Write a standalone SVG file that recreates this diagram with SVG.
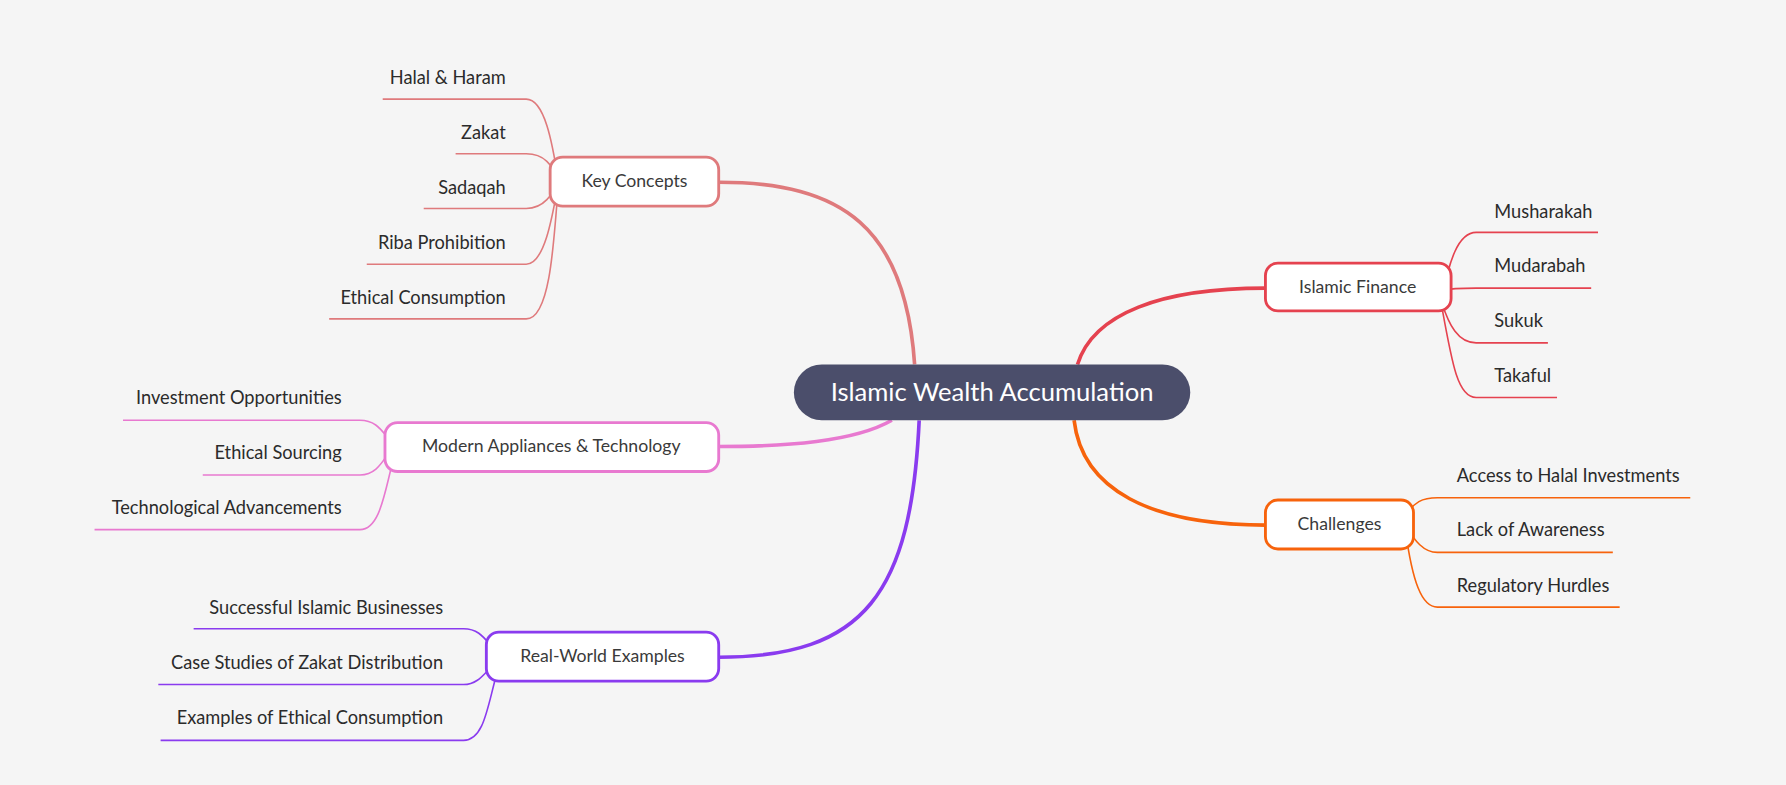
<svg xmlns="http://www.w3.org/2000/svg" width="1786" height="785" viewBox="0 0 1786 785">
<style>
text{font-family:"Source Sans Pro",Lato,"Liberation Sans",sans-serif;fill:#2b2b2b}
.leaf{font-size:16px}
.r{text-anchor:end}
.mid{font-size:15.5px;text-anchor:middle;fill:#3a3a3a}
.box{fill:#fff;stroke-width:2.5}
.c{fill:none;stroke-width:1.4}
.m{fill:none;stroke-width:3.2}
</style>
<rect width="1786" height="785" fill="#f5f5f5"/>
<g transform="scale(1.139)">
<g id="connectors">
<path class="m" stroke="#df7a7c" d="M803,320 C795,200 740,160 631,160"/>
<path class="m" stroke="#e5424f" d="M946,320 C960,275 1020,253 1111,253"/>
<path class="m" stroke="#f7630c" d="M943,369 C950,430 1010,461 1111,461"/>
<path class="m" stroke="#e879d0" d="M783,369 C750,388 690,392 631,392"/>
<path class="m" stroke="#8a3bef" d="M807,369 C800,520 760,577 631,577"/>
<g stroke="#df7a7c">
<path class="c" d="M336,87 H462 C478,87 485,125 490,158"/>
<path class="c" d="M400,135 H462 C478,135 485,145 490,158"/>
<path class="c" d="M372,183 H462 C478,183 485,170 490,160"/>
<path class="c" d="M322,232 H462 C478,232 485,190 490,162"/>
<path class="c" d="M289,280 H462 C482,280 486,220 490,164"/>
</g>
<g stroke="#e5424f">
<path class="c" d="M1266,262 C1272,230 1280,204 1296,204 H1403"/>
<path class="c" d="M1266,255 C1275,253 1285,253 1296,253 H1397"/>
<path class="c" d="M1266,266 C1272,285 1280,301 1296,301 H1359"/>
<path class="c" d="M1266,270 C1275,320 1280,349 1296,349 H1367"/>
</g>
<g stroke="#f7630c">
<path class="c" d="M1234,455 C1240,440 1250,437 1262,437 H1484"/>
<path class="c" d="M1234,461 C1242,475 1250,485 1262,485 H1416"/>
<path class="c" d="M1234,466 C1240,510 1248,533 1262,533 H1422"/>
</g>
<g stroke="#e879d0">
<path class="c" d="M108,369 H316 C330,369 335,378 341,385"/>
<path class="c" d="M178,417 H316 C330,417 336,405 341,398"/>
<path class="c" d="M83,465 H316 C334,465 338,430 345,405"/>
</g>
<g stroke="#8a3bef">
<path class="c" d="M170,552 H407 C420,552 425,560 432,568"/>
<path class="c" d="M139,601 H407 C420,601 426,590 432,585"/>
<path class="c" d="M141,650 H407 C425,650 428,620 436,592"/>
</g>
</g>
<g id="root"><rect x="697" y="320" width="348" height="49" rx="24.5" fill="#4b4e6b"/><text x="871" y="352" font-size="22.5" text-anchor="middle" style="fill:#fff">Islamic Wealth Accumulation</text></g>
<g id="key"><rect class="box" x="483" y="138" width="148" height="43" rx="11" stroke="#df7a7c"/><text class="mid" x="557" y="164">Key Concepts</text></g>
<g id="finance"><rect class="box" x="1111" y="231" width="163" height="42" rx="11" stroke="#e5424f"/><text class="mid" x="1192" y="257">Islamic Finance</text></g>
<g id="challenges"><rect class="box" x="1111" y="439" width="130" height="43" rx="11" stroke="#f7630c"/><text class="mid" x="1176" y="465">Challenges</text></g>
<g id="modern"><rect class="box" x="338" y="371" width="293" height="43" rx="11" stroke="#e879d0"/><text class="mid" x="484" y="397">Modern Appliances &amp; Technology</text></g>
<g id="real"><rect class="box" x="427" y="555" width="204" height="43" rx="11" stroke="#8a3bef"/><text class="mid" x="529" y="581">Real-World Examples</text></g>
<g id="leaves">
<text class="leaf r" x="444" y="74">Halal &amp; Haram</text>
<text class="leaf r" x="444" y="122">Zakat</text>
<text class="leaf r" x="444" y="170">Sadaqah</text>
<text class="leaf r" x="444" y="219">Riba Prohibition</text>
<text class="leaf r" x="444" y="267">Ethical Consumption</text>
<text class="leaf" x="1312" y="191">Musharakah</text>
<text class="leaf" x="1312" y="239">Mudarabah</text>
<text class="leaf" x="1312" y="287">Sukuk</text>
<text class="leaf" x="1312" y="335">Takaful</text>
<text class="leaf" x="1279" y="423">Access to Halal Investments</text>
<text class="leaf" x="1279" y="471">Lack of Awareness</text>
<text class="leaf" x="1279" y="520">Regulatory Hurdles</text>
<text class="leaf r" x="300" y="355">Investment Opportunities</text>
<text class="leaf r" x="300" y="403">Ethical Sourcing</text>
<text class="leaf r" x="300" y="451">Technological Advancements</text>
<text class="leaf r" x="389" y="539">Successful Islamic Businesses</text>
<text class="leaf r" x="389" y="587">Case Studies of Zakat Distribution</text>
<text class="leaf r" x="389" y="636">Examples of Ethical Consumption</text>
</g>
</g>
</svg>
